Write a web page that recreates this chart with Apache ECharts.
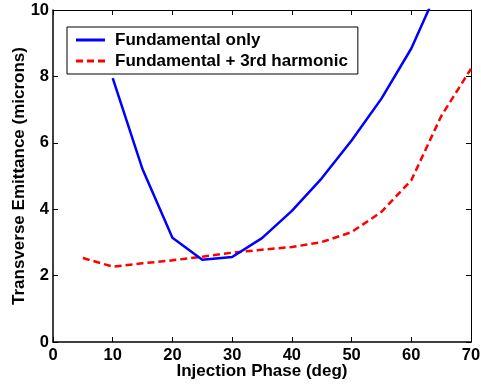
<!DOCTYPE html>
<html>
<head>
<meta charset="utf-8">
<script src="https://cdn.jsdelivr.net/npm/echarts@6/dist/echarts.min.js"></script>
<style>
  html, body { margin: 0; padding: 0; background: #fff; }
  #chart { width: 481px; height: 386px; }
</style>
</head>
<body>
<div id="chart"></div>
<script>
// Injection phase (deg) and transverse emittance (microns)
const phaseFund = [10, 15, 20, 25, 30, 35, 40, 45, 50, 55, 60, 65];
const emitFund = [7.95, 5.2, 3.14, 2.48, 2.56, 3.13, 3.95, 4.93, 6.07, 7.33, 8.84, 10.85];

const phaseHarm = [5, 10, 15, 20, 25, 30, 35, 40, 45, 50, 55, 60, 65, 70];
const emitHarm = [2.53, 2.27, 2.37, 2.46, 2.57, 2.69, 2.78, 2.86, 3.01, 3.31, 3.92, 4.87, 6.8, 8.23];

const seriesNames = ['Fundamental only', 'Fundamental + 3rd harmonic'];
const xTicks = [0, 10, 20, 30, 40, 50, 60, 70];
const yTicks = [0, 2, 4, 6, 8, 10];

const font = 'Arial, "Liberation Sans", sans-serif';
const tickLabel = { fontFamily: font, fontWeight: 'bold', fontSize: 16.5, color: '#000' };
const nameStyle = { fontFamily: font, fontWeight: 'bold', fontSize: 17, color: '#000' };

// legend swatches: a solid bar and a dashed bar
const solidIcon = 'path://M0,0H29V3H0Z';
const dashIcon = 'path://M0,0H7V3H0Z M11,0H18V3H11Z M22,0H29V3H22Z';

const chart = echarts.init(document.getElementById('chart'), null, { renderer: 'canvas' });

const pair = (xs, ys) => xs.map((x, i) => [x, ys[i]]);

const boxAxisCommon = {
  axisTick: { inside: true, length: 5, lineStyle: { color: '#000', width: 1 } },
  splitLine: { show: false }
};

chart.setOption({
  animation: false,
  backgroundColor: '#fff',
  grid: { left: 53, right: 10, top: 10, bottom: 44, containLabel: false, outerBoundsMode: 'none' },
  legend: {
    orient: 'vertical',
    left: 67,
    top: 27,
    padding: [4, 10, 4, 9],
    itemGap: 3,
    itemWidth: 29,
    itemHeight: 3,
    backgroundColor: '#fff',
    borderColor: '#000',
    borderWidth: 1,
    borderRadius: 0,
    data: [
      { name: seriesNames[0], icon: solidIcon, itemStyle: { color: '#0000ff' } },
      { name: seriesNames[1], icon: dashIcon, itemStyle: { color: '#ff0000' } }
    ],
    textStyle: { fontFamily: font, fontWeight: 'bold', fontSize: 17, color: '#000', padding: [0, 0, 0, 5], lineHeight: 18 }
  },
  xAxis: [
    Object.assign({}, boxAxisCommon, {
      type: 'value', min: xTicks[0], max: xTicks[xTicks.length - 1], interval: 10,
      name: 'Injection Phase (deg)', nameLocation: 'middle', nameGap: 21, nameMoveOverlap: false,
      nameTextStyle: nameStyle,
      axisLine: { onZero: false, lineStyle: { color: '#000', width: 1.5 } },
      axisLabel: Object.assign({ margin: 5 }, tickLabel)
    }),
    Object.assign({}, boxAxisCommon, {
      type: 'value', position: 'top', min: xTicks[0], max: xTicks[xTicks.length - 1], interval: 10,
      axisLine: { show: true, onZero: false, lineStyle: { color: '#000', width: 1 } },
      axisLabel: { show: false }
    })
  ],
  yAxis: [
    Object.assign({}, boxAxisCommon, {
      type: 'value', min: yTicks[0], max: yTicks[yTicks.length - 1], interval: 2,
      name: 'Transverse Emittance (microns)', nameLocation: 'middle', nameGap: 25, nameMoveOverlap: false,
      nameTextStyle: nameStyle,
      axisLine: { show: true, onZero: false, lineStyle: { color: '#000', width: 1.5 } },
      axisTick: { show: true, inside: true, length: 5, lineStyle: { color: '#000', width: 1 } },
      axisLabel: Object.assign({ margin: 4 }, tickLabel)
    }),
    Object.assign({}, boxAxisCommon, {
      type: 'value', position: 'right', min: yTicks[0], max: yTicks[yTicks.length - 1], interval: 2,
      axisLine: { show: true, onZero: false, lineStyle: { color: '#000', width: 1 } },
      axisTick: { show: true, inside: true, length: 5, lineStyle: { color: '#000', width: 1 } },
      axisLabel: { show: false }
    })
  ],
  series: [
    {
      name: seriesNames[0], type: 'line', xAxisIndex: 0, yAxisIndex: 0,
      data: pair(phaseFund, emitFund), showSymbol: false, symbol: 'none', clip: true,
      lineStyle: { color: '#0000ff', width: 2.5 }, itemStyle: { color: '#0000ff' }, z: 3
    },
    {
      name: seriesNames[1], type: 'line', xAxisIndex: 0, yAxisIndex: 0,
      data: pair(phaseHarm, emitHarm), showSymbol: false, symbol: 'none', clip: true,
      lineStyle: { color: '#ff0000', width: 2.5, type: [7, 4] }, itemStyle: { color: '#ff0000' }, z: 2
    }
  ]
});
</script>
</body>
</html>
